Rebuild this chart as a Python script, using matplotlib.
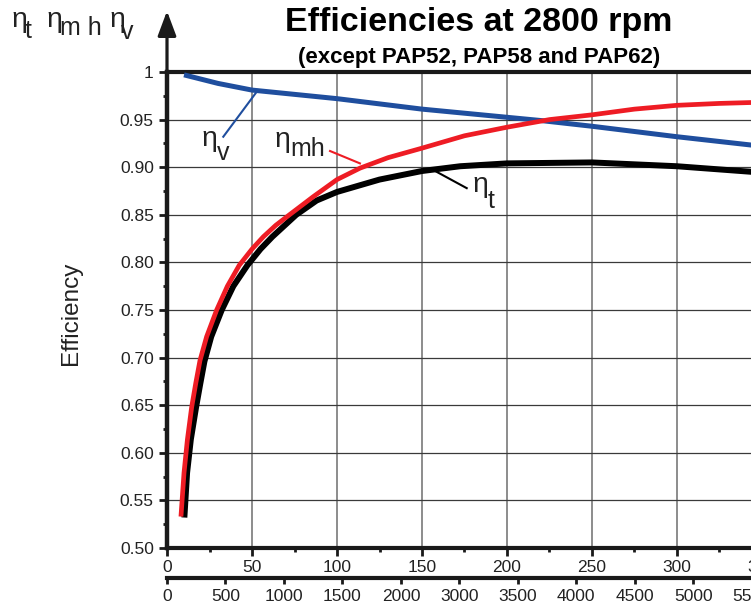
import matplotlib
matplotlib.use("Agg")
from matplotlib import pyplot as plt
from matplotlib.patches import FancyArrowPatch
import numpy as np

plt.rcParams['font.family'] = ['Liberation Sans', 'DejaVu Sans']

# volumetric efficiency (blue)
x_v = [10, 30, 50, 100, 150, 220, 250, 300, 345]
eta_v = [0.997, 0.988, 0.981, 0.972, 0.961, 0.949, 0.943, 0.932, 0.923]

# mechanical-hydraulic efficiency (red)
x_mh = [8.2, 10, 12, 14.5, 16.9, 19.4, 23.3, 29.2, 35.5, 42.5, 50, 56.7, 64,
        72, 86, 100, 113.5, 130, 150, 175, 200, 225, 250, 275, 300, 325, 345]
eta_mh = [0.533, 0.579, 0.614, 0.648, 0.673, 0.697, 0.722, 0.750, 0.775, 0.797,
          0.814, 0.827, 0.839, 0.850, 0.869, 0.887, 0.899, 0.910, 0.920, 0.933,
          0.942, 0.950, 0.955, 0.961, 0.965, 0.967, 0.968]

# total efficiency (black)
x_t = [10.2, 11.8, 14, 17.1, 19.5, 22, 26, 32.2, 39, 47.3, 55, 62, 76, 88,
       100, 125, 150, 172.5, 200, 250, 300, 345]
eta_t = [0.532, 0.579, 0.614, 0.648, 0.672, 0.696, 0.722, 0.750, 0.775, 0.797,
         0.814, 0.827, 0.850, 0.865, 0.874, 0.887, 0.896, 0.901, 0.904, 0.905,
         0.901, 0.895]

x_ticks = [0, 50, 100, 150, 200, 250, 300, 350]
y_ticks = [0.50, 0.55, 0.60, 0.65, 0.70, 0.75, 0.80, 0.85, 0.90, 0.95, 1.0]
y_labels = ['0.50', '0.55', '0.60', '0.65', '0.70', '0.75', '0.80', '0.85',
            '0.90', '0.95', '1']
flow_labels = ['0', '500', '1000', '1500', '2000', '3000', '3500', '4000',
               '4500', '5000', '5500']
flow_step = 34.4  # spacing of the lower scale in upper-scale units

fig = plt.figure(figsize=(7.51, 6.05), dpi=100)
ax = fig.add_axes([0.2224, 0.0942, 0.7922, 0.7868])

ax.set_xlim(0, 350)
ax.set_ylim(0.5, 1.0)

# grid
for xv in x_ticks[1:]:
    ax.axvline(xv, color='#6e6e6e', lw=1.1, zorder=1)
for yv in y_ticks[1:-1]:
    ax.axhline(yv, color='#3a3a3a', lw=0.9, zorder=1)

ax.plot(x_v, eta_v, color='#1f4e9e', lw=3.6, zorder=3, solid_capstyle='butt',
        solid_joinstyle='round')
ax.plot(x_t, eta_t, color='black', lw=4.3, zorder=3, solid_capstyle='butt',
        solid_joinstyle='round')
ax.plot(x_mh, eta_mh, color='#ee1c24', lw=3.4, zorder=4, solid_capstyle='butt',
        solid_joinstyle='round')

# spines
for s in ['top', 'bottom', 'left']:
    ax.spines[s].set_linewidth(3)
    ax.spines[s].set_color('#1a1a1a')
ax.spines['right'].set_visible(False)
ax.spines['left'].set_linewidth(3.2)

# arrow on top of the y axis
arrow = FancyArrowPatch((167 / 751, 1 - 70 / 605), (167 / 751, 1 - 11 / 605),
                        transform=fig.transFigure,
                        arrowstyle='-|>,head_length=15,head_width=5.6',
                        color='#1a1a1a', lw=2.3, shrinkA=0, shrinkB=0)
fig.patches.append(arrow)

ax.set_xticks(x_ticks)
ax.set_xticks(np.arange(25, 350, 50), minor=True)
ax.set_yticks(y_ticks)
ax.set_yticklabels(y_labels)
ax.set_yticks(np.arange(0.525, 1.0, 0.05), minor=True)
ax.tick_params(axis='both', which='major', labelsize=12.5, length=5.5, width=2,
               color='#1a1a1a', pad=4, labelcolor='#222222')
ax.tick_params(axis='both', which='minor', length=3, width=2, color='#1a1a1a')
ax.tick_params(axis='x', pad=3)

# lower scale
ax2 = ax.twiny()
ax2.set_xlim(ax.get_xlim())
ax2.xaxis.set_ticks_position('bottom')
ax2.xaxis.set_label_position('bottom')
ax2.spines['bottom'].set_position(('outward', 21.6))
for s in ['top', 'left', 'right']:
    ax2.spines[s].set_visible(False)
ax2.spines['bottom'].set_linewidth(3)
ax2.spines['bottom'].set_color('#1a1a1a')
ax2.set_xticks(np.arange(len(flow_labels)) * flow_step)
ax2.set_xticklabels(flow_labels)
ax2.tick_params(axis='x', labelsize=12.5, length=4, width=2, color='#1a1a1a',
                pad=4, labelcolor='#222222')

fig.text(71 / 751, 1 - 313 / 605, 'Efficiency', fontsize=17.5, rotation=90,
         ha='center', va='center', color='#222222')


def eta_label(x, y, sub, coords, dx=10.8, drop=8):
    ax.annotate('η', xy=(x, y), xycoords=coords, fontsize=20.5, ha='left',
                va='baseline', color='#222222', annotation_clip=False)
    ax.annotate(sub, xy=(x, y), xycoords=coords, xytext=(dx, -drop),
                textcoords='offset points', fontsize=18, ha='left',
                va='baseline', color='#222222', annotation_clip=False)


# curve labels with leader lines
eta_label(20.4, 0.922, 'v', 'data', dx=10.8, drop=9.6)
ax.plot([33.1, 53.5], [0.932, 0.981], color='#1f4e9e', lw=1.5, zorder=5)
eta_label(63.5, 0.9215, 'mh', 'data', dx=10.8, drop=6.5)
ax.plot([95.9, 113.5], [0.917, 0.904], color='#ee1c24', lw=1.5, zorder=5)
eta_label(180, 0.874, 't', 'data', dx=10.8, drop=11.5)
ax.plot([156.7, 176.3], [0.897, 0.878], color='black', lw=1.5, zorder=5)

# header labels top left
eta_label(11.7 / 751, 1 - 26.7 / 605, 't', 'figure fraction', dx=9.5, drop=8)
eta_label(46.7 / 751, 1 - 26.7 / 605, 'm h', 'figure fraction', dx=9.5, drop=6)
eta_label(110 / 751, 1 - 26.7 / 605, 'v', 'figure fraction', dx=7.5, drop=8.5)

fig.text(0.637, 1 - 22 / 605, 'Efficiencies at 2800 rpm', fontsize=24.5,
         fontweight='bold', ha='center', va='center')
fig.text(0.638, 1 - 57 / 605, '(except PAP52, PAP58 and PAP62)', fontsize=16,
         fontweight='bold', ha='center', va='center')

fig.savefig('out.png', dpi=100)
